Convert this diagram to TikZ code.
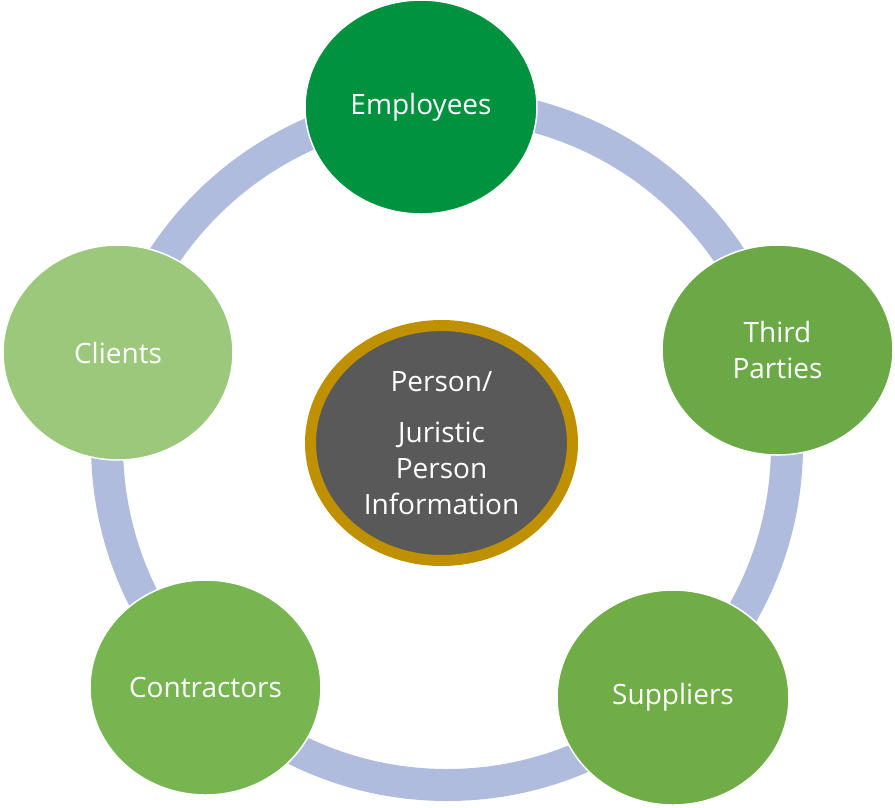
\documentclass[tikz,border=0pt]{standalone}
\usepackage{fontspec}
\setmainfont{Open Sans}
\usepackage{tikz}
\usetikzlibrary{positioning,shapes.geometric}
\usepackage{xcolor}
\definecolor{ringblue}{HTML}{AFBCDE}
\definecolor{empgreen}{HTML}{00923F}
\definecolor{thirdgreen}{HTML}{6AA945}
\definecolor{supgreen}{HTML}{70AD47}
\definecolor{congreen}{HTML}{77B550}
\definecolor{cligreen}{HTML}{9BC87B}
\definecolor{coregray}{HTML}{595959}
\definecolor{coregold}{HTML}{BF9000}

\begin{document}
\begin{tikzpicture}[x=1pt, y=-1pt,
  every node/.style={font=\fontsize{28}{36}\selectfont, text=white, align=center},
  party/.style={ellipse, draw=white, line width=1.5pt, inner sep=0pt, minimum width=231pt, minimum height=215pt}]
 \useasboundingbox (0,0) rectangle (895,807);
 % ring behind the circles
 \coordinate (mid) at (447,445);
 \draw[ringblue, line width=32pt] (mid) circle[radius=340pt];
 % outer circles
 \node[party, fill=empgreen, minimum width=232pt, minimum height=214pt] (employees) at (421,107) {Employees};
 \node[party, fill=thirdgreen, minimum height=210pt] (third) at (777.5,350) {Third\\Parties};
 \node[party, fill=supgreen, minimum width=232pt] (suppliers) at (673,697.5) {Suppliers};
 \node[party, fill=congreen] (contractors) at (205.5,687.5) {Contractors};
 \node[party, fill=cligreen, minimum width=230pt] (clients) at (118,352.5) {Clients};
 % centre
 \node[ellipse, draw=coregold, line width=11pt, fill=coregray, inner sep=0pt, minimum width=262pt, minimum height=235pt] (info) at (441.5,443) {Person/\\[15pt]Juristic\\Person\\Information};
\end{tikzpicture}
\end{document}
